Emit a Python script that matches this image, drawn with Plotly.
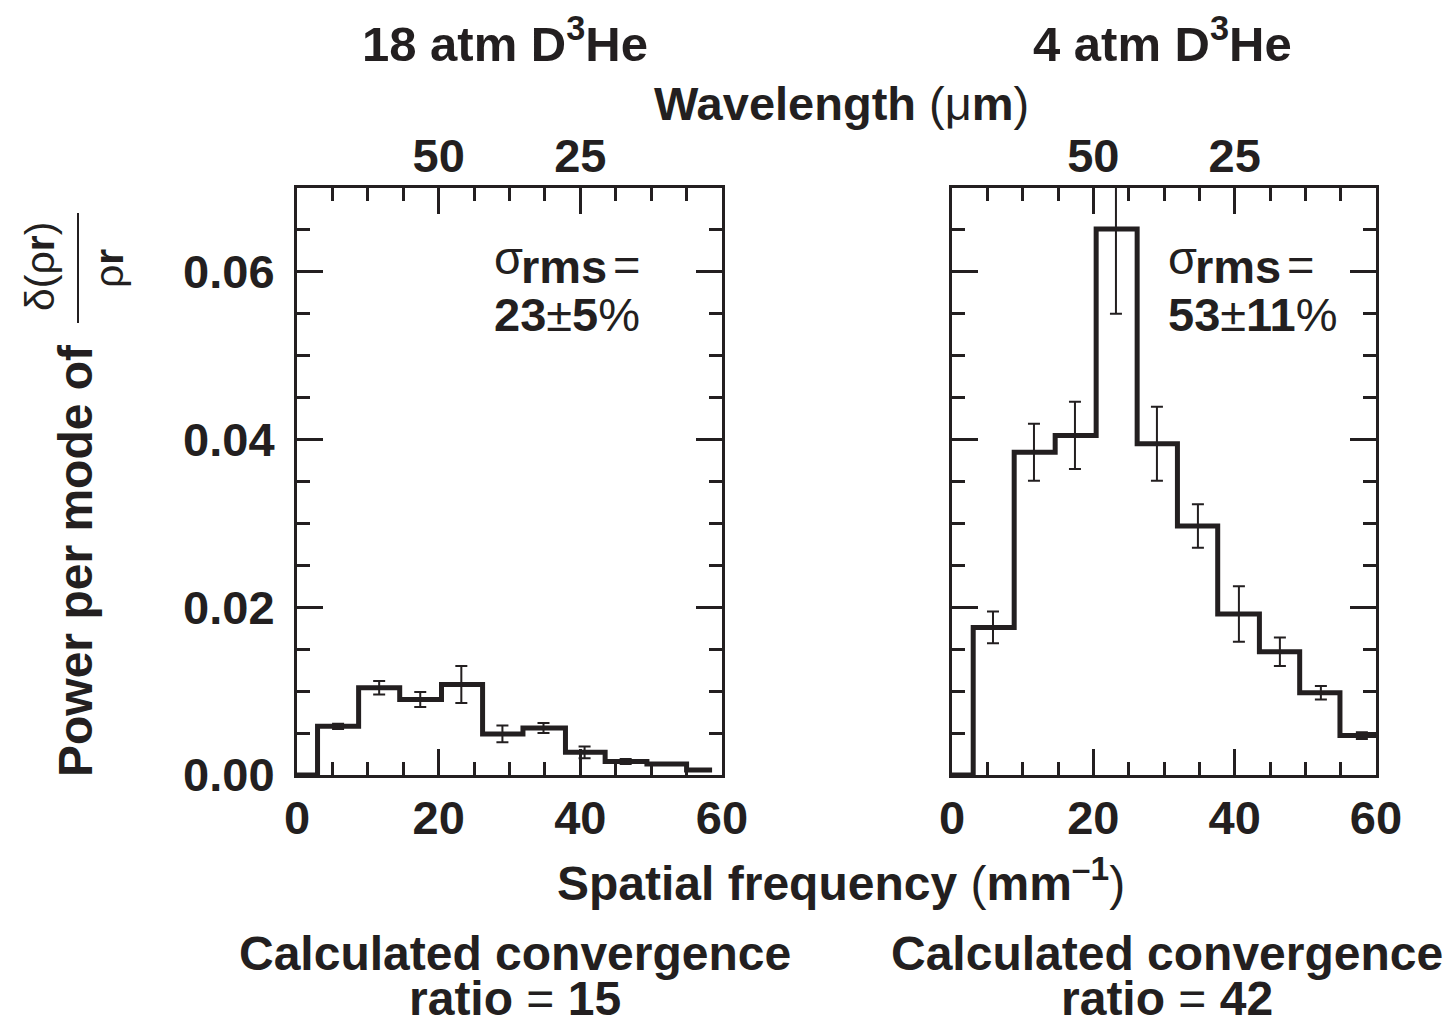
import plotly.graph_objects as go

# ---------------- data ----------------
centers = [5.8, 11.6, 17.4, 23.2, 29.0, 34.8, 40.6, 46.4, 52.2, 58.0]

left_edges = [2.9, 8.7, 14.5, 20.4, 26.2, 31.9, 37.9, 43.5, 49.4, 55.0, 58.6]
left_values = [0.0058, 0.0104, 0.0090, 0.0108, 0.0049, 0.0056, 0.0027, 0.0016, 0.0013, 0.0006]
left_errors = [0.0003, 0.0008, 0.0009, 0.0022, 0.0010, 0.0006, 0.0007, 0.0003, None, None]

right_edges = [3.0, 8.8, 14.6, 20.4, 26.2, 31.9, 37.6, 43.5, 49.2, 54.9, 60.0]
right_values = [0.0176, 0.0385, 0.0405, 0.0651, 0.0395, 0.0297, 0.0192, 0.0147, 0.0098, 0.0047]
right_errors = [0.0019, 0.0034, 0.0040, 0.0101, 0.0044, 0.0026, 0.0033, 0.0017, 0.0008, 0.0004]

bottom_ticks = [0, 20, 40, 60]
top_tick_freq = [20, 40]
top_tick_text = ["50", "25"]
y_ticks = [0.0, 0.02, 0.04, 0.06]

# ---------------- style ----------------
W, H = 1447, 1025
INK = "#231f20"
FONT = "Liberation Sans, Arial, Helvetica, sans-serif"
FS = 47


def px(x):
    return x / W


def py(y):
    return 1 - y / H


fig = go.Figure()


def add_panel(edges, values, errors, xa, ya):
    xs = [0] + edges
    ys = [0] + values + [values[-1]]
    fig.add_trace(go.Scatter(x=xs, y=ys, mode="lines", line=dict(shape="hv", width=5, color=INK),
                             xaxis=xa, yaxis=ya, showlegend=False, hoverinfo="skip"))
    cx = [c for c, e in zip(centers, errors) if e is not None]
    cy = [v for v, e in zip(values, errors) if e is not None]
    ce = [e for e in errors if e is not None]
    fig.add_trace(go.Scatter(x=cx, y=cy, mode="markers", marker=dict(size=1, color="rgba(0,0,0,0)"),
                             error_y=dict(type="data", array=ce, thickness=2, width=6, color=INK),
                             xaxis=xa, yaxis=ya, showlegend=False, hoverinfo="skip"))


add_panel(left_edges, left_values, left_errors, "x", "y")
add_panel(right_edges, right_values, right_errors, "x2", "y2")

ydom = [py(775), py(188)]
left_dom = [px(297), px(722)]
right_dom = [px(952), px(1376)]

tickfont = dict(family=FONT, size=FS, color=INK)


def xaxis_cfg(dom, anchor):
    return dict(domain=dom, anchor=anchor, range=[0, 60], tickmode="array", tickvals=bottom_ticks,
                ticktext=[f"<b>{v}</b>" for v in bottom_ticks], ticks="inside", ticklen=26, tickwidth=3,
                tickcolor=INK, minor=dict(dtick=5, tick0=0, ticks="inside", ticklen=13, tickwidth=3, tickcolor=INK),
                showline=True, linewidth=3, linecolor=INK, mirror=True, showgrid=False, zeroline=False,
                tickfont=tickfont, ticklabelstandoff=0, automargin=False)


def top_cfg(overlay, anchor):
    return dict(overlaying=overlay, anchor=anchor, side="top", range=[0, 60], tickmode="array",
                tickvals=top_tick_freq, ticktext=[f"<b>{t}</b>" for t in top_tick_text], ticks="inside",
                ticklen=26, tickwidth=3, tickcolor=INK,
                minor=dict(dtick=5, tick0=0, ticks="inside", ticklen=13, tickwidth=3, tickcolor=INK),
                showline=False, showgrid=False, zeroline=False, tickfont=tickfont, ticklabelstandoff=6,
                automargin=False)


def yaxis_cfg(anchor, labels):
    return dict(domain=ydom, anchor=anchor, range=[0, 0.07], tickmode="array", tickvals=y_ticks,
                ticktext=[f"<b>{v:.2f}</b>" for v in y_ticks], showticklabels=labels,
                ticks="inside", ticklen=26, tickwidth=3, tickcolor=INK,
                minor=dict(dtick=0.005, tick0=0, ticks="inside", ticklen=13, tickwidth=3, tickcolor=INK),
                showline=True, linewidth=3, linecolor=INK, mirror="ticks", showgrid=False, zeroline=False,
                tickfont=tickfont, ticklabelstandoff=10, automargin=False)


fig.add_trace(go.Scatter(x=[None], y=[None], xaxis="x3", yaxis="y", showlegend=False))
fig.add_trace(go.Scatter(x=[None], y=[None], xaxis="x4", yaxis="y2", showlegend=False))

fig.update_layout(
    width=W, height=H, autosize=False, margin=dict(l=0, r=0, t=0, b=0, pad=0, autoexpand=False),
    paper_bgcolor="white", plot_bgcolor="white",
    font=dict(family=FONT, size=FS, color=INK),
    xaxis=xaxis_cfg(left_dom, "y"), yaxis=yaxis_cfg("x", True),
    xaxis2=xaxis_cfg(right_dom, "y2"), yaxis2=yaxis_cfg("x2", False),
    xaxis3=top_cfg("x", "y"), xaxis4=top_cfg("x2", "y2"),
    showlegend=False,
)

ann = []


def add_text(text, x, y, xanchor="center", yanchor="middle", size=FS, angle=0, align="center"):
    ann.append(dict(text=text, x=px(x), y=py(y), xref="paper", yref="paper", xanchor=xanchor,
                    yanchor=yanchor, showarrow=False, textangle=angle, align=align,
                    font=dict(family=FONT, size=size, color=INK)))


add_text("<b>18 atm D<sup>3</sup>He</b>", 505, 40, size=49)
add_text("<b>4 atm D<sup>3</sup>He</b>", 1162, 40, size=49)
add_text("<b>Wavelength</b> (μ<b>m</b>)", 841, 104)
add_text("<b>Spatial frequency</b> (<b>mm<sup>–1</sup></b>)", 841, 880, size=48)
add_text("<b>Calculated convergence</b>", 515, 953, size=48)
add_text("<b>ratio</b> = <b>15</b>", 515, 998, size=48)
add_text("<b>Calculated convergence</b>", 1167, 953, size=48)
add_text("<b>ratio</b> = <b>42</b>", 1167, 998, size=48)

add_text("<b>Power per mode of</b>", 75, 561, angle=-90, size=48)
add_text("δ(ρ<b>r</b>)", 40, 267, angle=-90, size=41)
add_text("ρ<b>r</b>", 109, 268, angle=-90, size=41)

for x0, val in [(492, "<b>23</b>±<b>5</b>%"), (1166, "<b>53</b>±<b>11</b>%")]:
    add_text("σ", x0, 257, xanchor="left")
    add_text("<b>rms</b>", x0 + 27, 266, xanchor="left")
    add_text("=", x0 + 119, 264, xanchor="left")
    add_text(val, x0, 314, xanchor="left")

fig.update_layout(annotations=ann)
fig.add_shape(type="line", xref="paper", yref="paper", x0=px(78), x1=px(78), y0=py(213), y1=py(323),
              line=dict(color=INK, width=2))

fig.write_html("out.html", config={"responsive": False})
